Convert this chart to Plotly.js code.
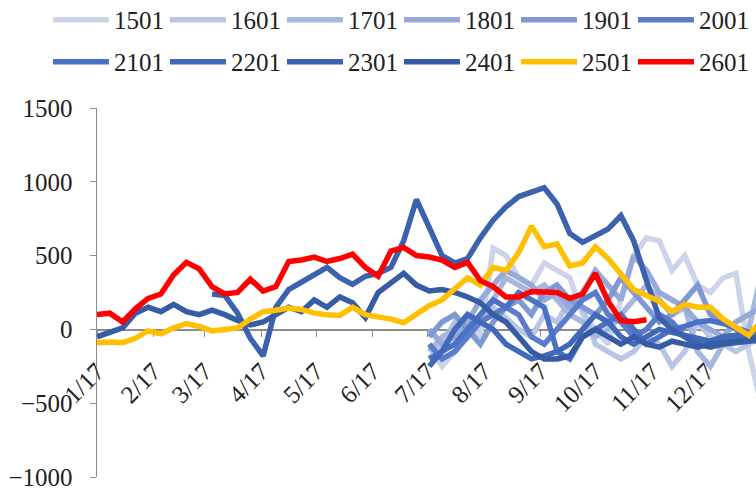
<!DOCTYPE html>
<html><head><meta charset="utf-8">
<script src="https://cdn.plot.ly/plotly-3.0.1.min.js"></script>
<style>html,body{margin:0;padding:0;background:#fff}#chart{width:756px;height:489px}</style>
</head><body><div id="chart"></div>
<script>
// weekly observation dates (seasonal axis, year-agnostic)
const dates = ['2001-01-17','2001-01-24','2001-01-31','2001-02-07','2001-02-14','2001-02-21','2001-02-28',
'2001-03-07','2001-03-14','2001-03-21','2001-03-28','2001-04-04','2001-04-11','2001-04-18','2001-04-25',
'2001-05-02','2001-05-09','2001-05-16','2001-05-23','2001-05-30','2001-06-06','2001-06-13','2001-06-20',
'2001-06-27','2001-07-04','2001-07-11','2001-07-18','2001-07-25','2001-08-01','2001-08-08','2001-08-15',
'2001-08-22','2001-08-29','2001-09-05','2001-09-12','2001-09-19','2001-09-26','2001-10-03','2001-10-10',
'2001-10-17','2001-10-24','2001-10-31','2001-11-07','2001-11-14','2001-11-21','2001-11-28','2001-12-05',
'2001-12-12','2001-12-19','2001-12-26','2002-01-02','2002-01-09','2002-01-16'];
const tickDates = ['2001-01-17','2001-02-17','2001-03-17','2001-04-17','2001-05-17','2001-06-17',
'2001-07-17','2001-08-17','2001-09-17','2001-10-17','2001-11-17','2001-12-17'];
const tickLabels = ['1/17','2/17','3/17','4/17','5/17','6/17','7/17','8/17','9/17','10/17','11/17','12/17'];
const seriesNames = ['1501','1601','1701','1801','1901','2001','2101','2201','2301','2401','2501','2601'];
const _ = null;
const s1501 = [_,_,_,_,_,_,_,_,_,_,_,_,_,_,_,_,_,_,_,_,_,_,_,_,_,_,
  -100,-250,-150,50,-50,550,500,350,300,450,400,350,100,0,-100,200,500,620,600,400,500,300,250,350,380,-150,-520];
const s1601 = [_,_,_,_,_,_,_,_,_,_,_,_,_,_,_,_,_,_,_,_,_,_,_,_,_,_,
  -200,-100,50,-50,100,150,80,0,-50,100,50,200,150,-100,-150,-200,-150,-50,-100,-250,-150,50,-50,-100,-150,-100,-50];
const s1701 = [_,_,_,_,_,_,_,_,_,_,_,_,_,_,_,_,_,_,_,_,_,_,_,_,_,_,
  -150,-50,0,100,50,200,350,300,250,300,200,100,50,-50,0,100,200,300,200,100,150,-150,-250,-100,-50,0,380];
const s1801 = [_,_,_,_,_,_,_,_,_,_,_,_,_,_,_,_,_,_,_,_,_,_,_,_,_,_,
  0,-100,-50,50,200,300,400,350,300,200,250,150,250,400,300,200,500,400,250,200,150,50,0,-50,50,100,150];
const s1901 = [_,_,_,_,_,_,_,_,_,_,_,_,_,_,_,_,_,_,_,_,_,_,_,_,_,_,
  -50,50,100,0,-100,50,150,200,100,250,300,200,150,100,200,350,250,150,50,100,200,300,100,50,0,-50,-100];
const s2001 = [_,_,_,_,_,_,_,_,_,_,_,_,_,_,_,_,_,_,_,_,_,_,_,_,_,_,
  -100,-200,-150,-50,50,100,150,100,-50,-100,0,100,200,250,100,50,-50,0,100,50,-50,-100,-80,-60,-50,-40,-30];
const s2101 = [_,_,_,_,_,_,_,_,_,_,_,_,_,_,_,_,_,_,_,_,_,_,_,_,_,_,
  -200,-150,-100,0,100,200,150,250,200,150,-150,-200,-50,0,50,100,0,-100,-50,0,20,50,60,40,10,-20,-30];
const s2201 = [_,_,_,_,_,_,_,_,_,_,_,_,_,_,_,_,_,_,_,_,_,_,_,_,_,_,
  -250,-150,0,100,50,0,-100,-150,-200,-180,-150,-100,0,100,50,-50,-100,-50,0,-20,-40,-60,-80,-50,-40,-30,-20];
const s2301 = [_,_,_,_,_,_,_,_,_,240,230,110,-60,-180,150,270,320,380,420,350,305,360,380,420,600,880,
  700,500,450,480,620,740,830,900,930,960,850,650,590,640,680,770,600,330,80,0,-50,-100,-120,-100,-90,-80,-70];
const s2401 = [-50,-20,10,110,150,120,170,120,100,130,100,60,30,50,100,150,120,200,150,220,180,80,250,320,380,300,
  260,270,250,220,180,100,50,-50,-150,-200,-200,-180,-50,0,-50,-100,-50,-100,-120,-80,-100,-120,-100,-90,-80,-70,-60];
const s2501 = [-90,-85,-90,-60,-10,-30,10,40,20,-10,0,10,70,120,130,145,135,110,100,95,150,100,85,70,45,100,
  160,200,270,350,300,420,400,520,700,560,580,430,450,560,480,370,270,230,190,120,170,150,150,70,10,-40,60];
const s2601 = [100,110,50,140,210,240,370,455,410,290,240,250,340,260,290,460,470,490,460,480,510,420,360,530,555,500,
  490,470,420,454,330,290,220,220,257,255,250,210,240,380,190,60,52,65,_,_,_,_,_,_,_,_,_];
const allSeries = [s1501,s1601,s1701,s1801,s1901,s2001,s2101,s2201,s2301,s2401,s2501,s2601];

// styling
const colors = ['#cdd4ea','#bac5e5','#a8b7de','#97a9d8','#8099d2','#5b7dc9','#4a72c4','#4169ba','#3b62ae','#355ca5','#ffc000','#ff0000'];
const traces = allSeries.map((ys, i) => ({
  type: 'scatter', mode: 'lines', x: dates, y: ys, name: seriesNames[i],
  line: {color: colors[i], width: 5.5, shape: 'linear'},
  connectgaps: false,
  legend: i < 6 ? 'legend' : 'legend2'
}));
function mkFont() { return {family: 'Liberation Serif', size: 25, color: '#222'}; }
function mkLegend(y) {
  return {orientation: 'h', xanchor: 'left', yanchor: 'middle', x: -0.0744, y: y,
    entrywidth: 46, entrywidthmode: 'pixels', itemwidth: 56, font: mkFont(),
    bgcolor: 'rgba(0,0,0,0)', traceorder: 'normal', borderwidth: 0};
}
const layout = {
  width: 756, height: 489,
  margin: {l: 97, r: 0, t: 108, b: 12, pad: 0, autoexpand: false},
  paper_bgcolor: '#fff', plot_bgcolor: '#fff',
  font: mkFont(),
  showlegend: true,
  legend: mkLegend(1.2385),
  legend2: mkLegend(1.1247),
  xaxis: {
    type: 'date', range: ['2001-01-17', '2002-01-13'],
    tickmode: 'array', tickvals: tickDates, ticktext: tickLabels, tickangle: -45,
    anchor: 'free', position: 0.4, layer: 'below traces',
    showline: true, linecolor: '#8c8c8c', linewidth: 1.5,
    ticks: 'outside', ticklen: 6, tickcolor: '#8c8c8c', ticklabelstandoff: 10,
    showgrid: false, zeroline: false, tickfont: mkFont(), ticklabeloverflow: 'allow'
  },
  yaxis: {
    range: [-1000, 1500], tickvals: [-1000, -500, 0, 500, 1000, 1500],
    showline: true, linecolor: '#8c8c8c', linewidth: 1.5, layer: 'below traces',
    ticks: 'outside', ticklen: 6, tickcolor: '#8c8c8c', ticklabelstandoff: 12,
    showgrid: false, zeroline: false, tickfont: mkFont(), ticklabeloverflow: 'allow'
  }
};
Plotly.newPlot('chart', traces, layout, {staticPlot: true});
</script></body></html>
